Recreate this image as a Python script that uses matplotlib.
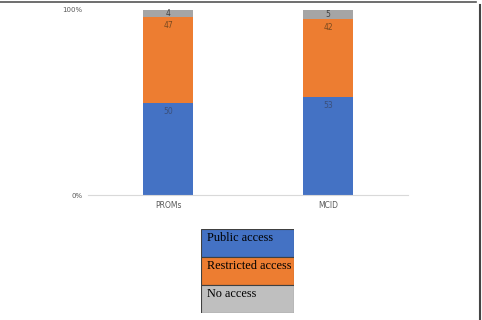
import numpy as np
import matplotlib.pyplot as plt
from matplotlib.lines import Line2D

categories = ['PROMs', 'MCID']
series_names = ['Public access', 'Restricted access', 'No access']
public = [50, 53]
restricted = [47, 42]
no_access = [4, 5]
colors = ['#4472C4', '#ED7D31', '#A5A5A5']
legend_colors = ['#4472C4', '#ED7D31', '#BFBFBF']
label_colors = ['#3b4f7a', '#7a4a20', '#404040']

W, H = 482, 320
fig = plt.figure(figsize=(W / 100, H / 100), dpi=100)

# main chart
ax = fig.add_axes([88 / W, 1 - 195 / H, 320 / W, 185 / H])
x = np.arange(len(categories))
data = np.array([public, restricted, no_access], dtype=float)
totals = data.sum(axis=0)
pct = data / totals * 100
off = 8.5 / 185 * 100  # label offset below segment top

bottom = np.zeros(len(categories))
for vals, raw, c, lc in zip(pct, data, colors, label_colors):
    ax.bar(x, vals, width=0.3125, bottom=bottom, color=c, zorder=2)
    for xi, b, v, r in zip(x, bottom, vals, raw):
        y = max(b + v - off, b + v / 2)
        ax.text(xi, y, '%d' % r, ha='center', va='center',
                fontsize=5.5, color=lc, zorder=3)
    bottom += vals

ax.set_xlim(-0.5, 1.5)
ax.set_ylim(0, 100)
ax.set_yticks([0, 100])
ax.set_yticklabels(['0%', '100%'], fontsize=5, color='#595959')
ax.set_xticks(x)
ax.set_xticklabels(categories, fontsize=5.5, color='#595959')
ax.tick_params(length=0, pad=4)
for s in ['top', 'right', 'left']:
    ax.spines[s].set_visible(False)
ax.spines['bottom'].set_color('#d9d9d9')
ax.spines['bottom'].set_linewidth(0.8)

# legend box drawn as its own small axes
lax = fig.add_axes([201 / W, 1 - 313 / H, 93 / W, 84 / H])
rows = np.arange(len(series_names))[::-1]
lax.barh(rows, [1] * len(series_names), height=1.0, left=0, color=legend_colors,
         edgecolor='#404040', linewidth=0.8)
for r, name in zip(rows, series_names):
    lax.text(0.06, r + 0.40, name, ha='left', va='top', fontsize=8.8,
             family='Liberation Serif', color='black')
lax.set_xlim(0, 1)
lax.set_ylim(-0.5, 2.5)
lax.axis('off')

# page frame (top and right edge)
fig.add_artist(Line2D([0, 476 / W], [1 - 1.5 / H, 1 - 1.5 / H],
                      transform=fig.transFigure, color='#555555', lw=1.2))
fig.add_artist(Line2D([479.5 / W, 479.5 / W], [0, 1 - 5 / H],
                      transform=fig.transFigure, color='#444444', lw=1.5))

fig.savefig('out.png', dpi=100)
